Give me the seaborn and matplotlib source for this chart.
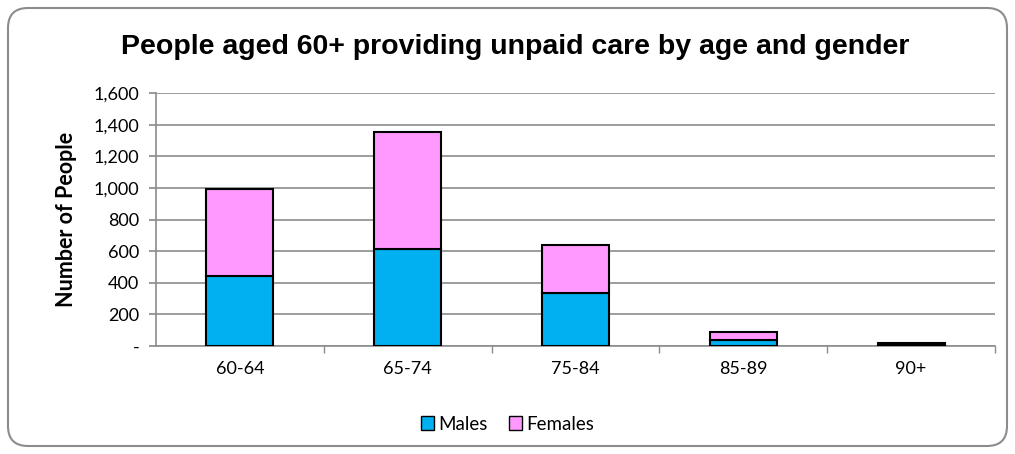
import matplotlib
matplotlib.use("Agg")
import matplotlib.pyplot as plt
import seaborn as sns
import pandas as pd
from matplotlib.patches import FancyBboxPatch, Patch
from matplotlib.ticker import FuncFormatter, FixedLocator

age_groups = ["60-64", "65-74", "75-84", "85-89", "90+"]
males = [440, 616, 333, 38, 8]
females = [552, 738, 308, 49, 12]

sns.set_theme(style="white")
plt.rcParams['font.family'] = ['Lato', 'DejaVu Sans']
plt.rcParams['text.color'] = 'black'
plt.rcParams['axes.labelcolor'] = 'black'

df = pd.DataFrame({"age": age_groups, "Males": males, "Females": females})

fig = plt.figure(figsize=(10.15, 4.54), dpi=100)
ax = fig.add_axes([156/1015, 1-346/454, (995-156)/1015, (346-93)/454])

frame = FancyBboxPatch((0.08, 0.08), 9.99, 4.38,
                       boxstyle="round,pad=0,rounding_size=0.2",
                       transform=fig.dpi_scale_trans, facecolor="white",
                       edgecolor="#8c8c8c", linewidth=1.5, zorder=-10)
fig.patches.append(frame)

sns.barplot(data=df, x="age", y="Males", color="#00b0f0", edgecolor="black",
            linewidth=1.5, width=0.4, ax=ax, saturation=1, zorder=3)
sns.barplot(data=df, x="age", y="Females", bottom=df["Males"], color="#ff99ff",
            edgecolor="black", linewidth=1.5, width=0.4, ax=ax, saturation=1, zorder=3)

ax.set_ylim(0, 1600)
ax.set_xlim(-0.5, 4.5)
ax.set_yticks(range(0, 1601, 200))
ax.yaxis.set_major_formatter(FuncFormatter(lambda v, p: "-" if v == 0 else f"{int(v):,}"))
ax.yaxis.grid(True, color="#8c8c8c", linewidth=1.2, zorder=0)
ax.set_axisbelow(True)
for s in ["top", "right"]:
    ax.spines[s].set_visible(False)
for s in ["left", "bottom"]:
    ax.spines[s].set_color("#8c8c8c")
    ax.spines[s].set_linewidth(1.2)

ax.tick_params(axis="y", which="major", direction="out", length=5, color="#8c8c8c",
               labelcolor="black", labelsize=13, left=True, pad=7)
ax.set_xticks(range(len(age_groups)))
ax.set_xticklabels(age_groups)
ax.tick_params(axis="x", which="major", length=0, labelsize=13, pad=11, labelcolor="black")
ax.xaxis.set_minor_locator(FixedLocator([0.5, 1.5, 2.5, 3.5, 4.5]))
ax.tick_params(axis="x", which="minor", direction="out", length=5, color="#8c8c8c", bottom=True)

ax.set_xlabel("")
ax.set_ylabel("Number of People", fontsize=15.5, fontweight="bold", labelpad=12)

fig.text(515/1015, 1-47/454, "People aged 60+ providing unpaid care by age and gender",
         ha="center", va="center", fontsize=20.5, fontweight="bold", color="black",
         family=["Liberation Sans", "DejaVu Sans"])

handles = [Patch(facecolor="#00b0f0", edgecolor="black", label="Males"),
           Patch(facecolor="#ff99ff", edgecolor="black", label="Females")]
fig.legend(handles=handles, loc="center", bbox_to_anchor=(0.5, 1-424/454), ncol=2,
           frameon=False, fontsize=13.5, handlelength=0.7, handleheight=0.7,
           handletextpad=0.25, columnspacing=1.1, labelcolor="black")

fig.savefig("out.png", dpi=100)
